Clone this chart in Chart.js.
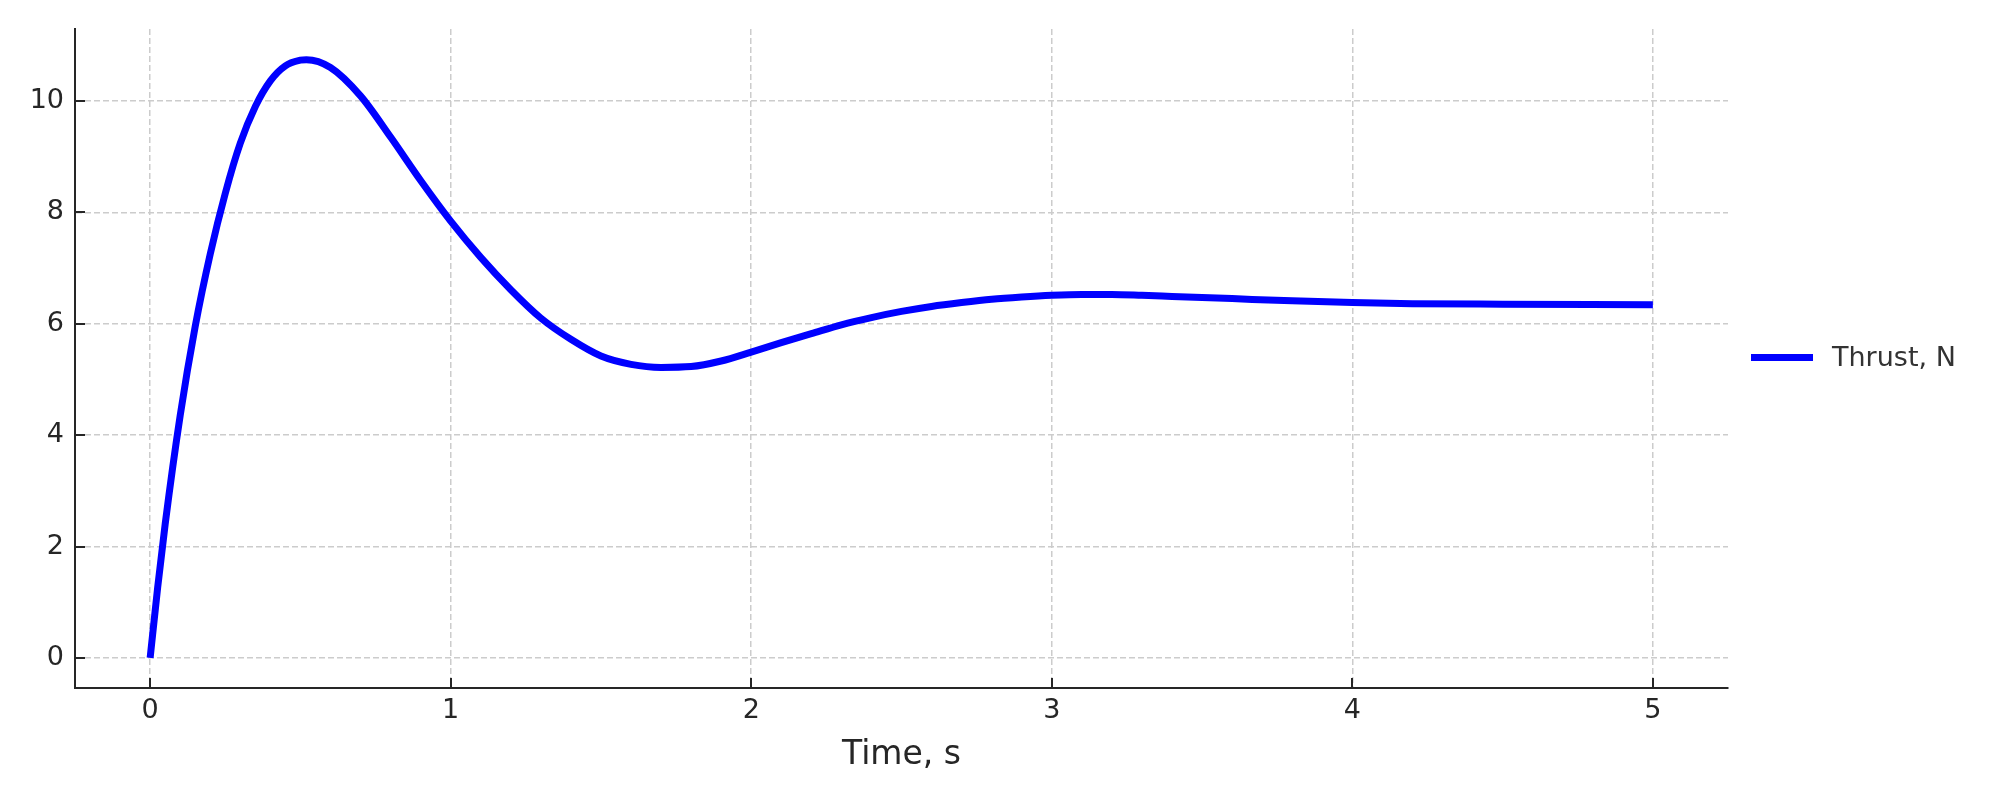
<!DOCTYPE html>
<html>
<head>
<meta charset="utf-8">
<script src="https://cdn.jsdelivr.net/npm/chart.js@4/dist/chart.umd.min.js"></script>
<style>
  body { margin: 0; background: #fff; }
  #wrap { width: 2000px; height: 800px; }
</style>
</head>
<body>
<div id="wrap"><canvas id="myChart" width="2000" height="800"></canvas></div>
<script>
// values (time in s, thrust in N)
var timeS = [0, 0.025, 0.05, 0.1, 0.15, 0.2, 0.25, 0.3, 0.35, 0.4, 0.45, 0.5, 0.52,
    0.6, 0.7, 0.8, 0.9, 1.0, 1.1, 1.2, 1.3, 1.4, 1.5, 1.6, 1.7, 1.8, 1.9, 2.0,
    2.1, 2.2, 2.3, 2.4, 2.5, 2.6, 2.7, 2.8, 2.9, 3.0, 3.1, 3.2, 3.3, 3.4, 3.6, 3.8, 4.0, 4.2, 4.5, 5.0];
var thrustN = [0, 1.26, 2.40, 4.35, 5.95, 7.25, 8.34, 9.24, 9.90, 10.36, 10.63, 10.73, 10.74,
    10.60, 10.09, 9.35, 8.57, 7.84, 7.19, 6.61, 6.10, 5.72, 5.42, 5.27, 5.215, 5.23, 5.33, 5.49,
    5.66, 5.82, 5.98, 6.11, 6.22, 6.31, 6.38, 6.44, 6.48, 6.51, 6.525, 6.525, 6.51, 6.49, 6.45, 6.41, 6.38, 6.36, 6.35, 6.34];
var xTicks = [0, 1, 2, 3, 4, 5];
var yTicks = [0, 2, 4, 6, 8, 10];
var seriesLabel = 'Thrust, N';
var xTitle = 'Time, s';

var axisColor = '#262626';
var fontFamily = '"DejaVu Sans", sans-serif';

var points = timeS.map(function (t, i) { return {x: t, y: thrustN[i]}; });

// matplotlib style inward tick marks
var inwardTicks = {
    id: 'inwardTicks',
    afterDraw: function (chart) {
        var ctx = chart.ctx;
        var area = chart.chartArea;
        var xs = chart.scales.x, ys = chart.scales.y;
        ctx.save();
        ctx.strokeStyle = axisColor;
        ctx.lineWidth = 2;
        xTicks.forEach(function (v) {
            var px = Math.round(xs.getPixelForValue(v));
            ctx.beginPath();
            ctx.moveTo(px, area.bottom);
            ctx.lineTo(px, area.bottom - 10);
            ctx.stroke();
        });
        yTicks.forEach(function (v) {
            var py = Math.round(ys.getPixelForValue(v));
            ctx.beginPath();
            ctx.moveTo(area.left, py);
            ctx.lineTo(area.left + 10, py);
            ctx.stroke();
        });
        ctx.restore();
    }
};

// legend outside the plot, on the right
var sideLegend = {
    id: 'sideLegend',
    afterDraw: function (chart) {
        var ctx = chart.ctx;
        var area = chart.chartArea;
        var ds = chart.data.datasets[0];
        var cy = (area.top + area.bottom) / 2 - 1;
        ctx.save();
        ctx.strokeStyle = ds.borderColor;
        ctx.lineWidth = 7;
        ctx.beginPath();
        ctx.moveTo(area.right + 23, cy);
        ctx.lineTo(area.right + 85, cy);
        ctx.stroke();
        ctx.fillStyle = '#333333';
        ctx.font = '27px ' + fontFamily;
        ctx.textBaseline = 'middle';
        ctx.textAlign = 'left';
        ctx.fillText(ds.label, area.right + 104, cy + 1);
        ctx.restore();
    }
};

var ctx = document.getElementById('myChart').getContext('2d');
var thrustChart = new Chart(ctx, {
    type: 'line',
    data: {
        datasets: [{
            label: seriesLabel,
            data: points,
            borderColor: '#0000FF',
            borderWidth: 7,
            pointRadius: 0,
            fill: false,
            cubicInterpolationMode: 'monotone',
            borderCapStyle: 'butt'
        }]
    },
    options: {
        responsive: false,
        animation: false,
        layout: {
            padding: {left: 0, top: 29, right: 272, bottom: 0}
        },
        plugins: {
            legend: {display: false},
            tooltip: {enabled: false}
        },
        scales: {
            x: {
                type: 'linear',
                min: -0.25,
                max: 5.25,
                afterBuildTicks: function (s) { s.ticks = xTicks.map(function (v) { return {value: v}; }); },
                afterFit: function (s) { s.height = 112; },
                grid: {color: '#cccccc', lineWidth: 1.5, drawTicks: false},
                border: {display: true, color: axisColor, width: 2, dash: [6, 3]},
                ticks: {
                    color: axisColor,
                    padding: 7,
                    maxRotation: 0,
                    font: {family: fontFamily, size: 27}
                },
                title: {
                    display: true,
                    text: xTitle,
                    color: axisColor,
                    font: {family: fontFamily, size: 33},
                    padding: {top: 0, bottom: 25}
                }
            },
            y: {
                min: -0.54,
                max: 11.29,
                afterBuildTicks: function (s) { s.ticks = yTicks.map(function (v) { return {value: v}; }); },
                afterFit: function (s) { s.width = 75; },
                grid: {color: '#cccccc', lineWidth: 1.5, drawTicks: false},
                border: {display: true, color: axisColor, width: 2, dash: [6, 3]},
                ticks: {
                    color: axisColor,
                    padding: 11,
                    font: {family: fontFamily, size: 27}
                }
            }
        }
    },
    plugins: [inwardTicks, sideLegend]
});
</script>
</body>
</html>
